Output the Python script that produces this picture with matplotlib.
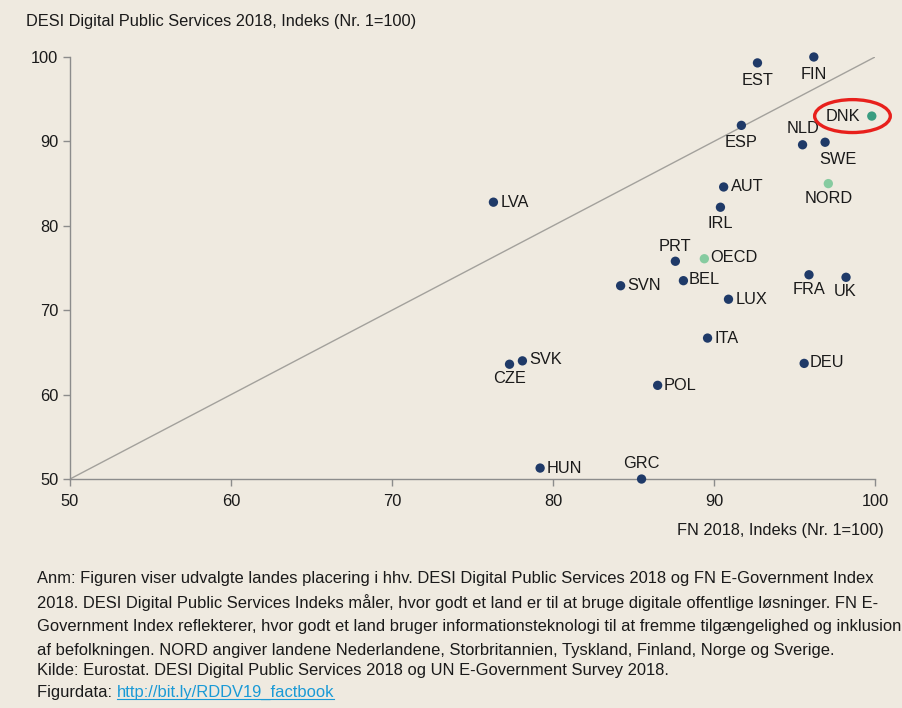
import matplotlib.pyplot as plt
from matplotlib.patches import Ellipse
from matplotlib.lines import Line2D

plt.rcParams['font.family'] = ['Liberation Sans', 'DejaVu Sans']

# FN E-Government index (x) og DESI Digital Public Services (y)
countries = ['EST', 'FIN', 'DNK', 'ESP', 'NLD', 'SWE', 'NORD', 'AUT', 'IRL', 'LVA',
             'PRT', 'OECD', 'BEL', 'SVN', 'LUX', 'FRA', 'UK', 'ITA', 'CZE', 'SVK',
             'POL', 'DEU', 'HUN', 'GRC']
fn_index = [92.7, 96.2, 99.8, 91.7, 95.5, 96.9, 97.1, 90.6, 90.4, 76.3,
            87.6, 89.4, 88.1, 84.2, 90.9, 95.9, 98.2, 89.6, 77.3, 78.1,
            86.5, 95.6, 79.2, 85.5]
desi_index = [99.3, 100.0, 93.0, 91.9, 89.6, 89.9, 85.0, 84.6, 82.2, 82.8,
              75.8, 76.1, 73.5, 72.9, 71.3, 74.2, 73.9, 66.7, 63.6, 64.0,
              61.1, 63.7, 51.3, 50.0]
groups = ['land'] * 24
groups[countries.index('DNK')] = 'dk'
groups[countries.index('NORD')] = 'avg'
groups[countries.index('OECD')] = 'avg'

colors = {'land': '#1f3a68', 'dk': '#3a9c80', 'avg': '#86cba0'}
bg = '#efeae0'
fs = 11.8

# label placement: (dx, dy) in points, ha, va
placement = {
    'EST': (0, -7, 'center', 'top'), 'FIN': (0, -7, 'center', 'top'),
    'DNK': (-8, 0, 'right', 'center'), 'ESP': (0, -7, 'center', 'top'),
    'NLD': (0, 6, 'center', 'bottom'), 'SWE': (9, -7, 'center', 'top'),
    'NORD': (0, -5, 'center', 'top'), 'AUT': (5, 0, 'left', 'center'),
    'IRL': (0, -6, 'center', 'top'), 'LVA': (5, 0, 'left', 'center'),
    'PRT': (0, 5, 'center', 'bottom'), 'OECD': (4, 1, 'left', 'center'),
    'BEL': (4, 1, 'left', 'center'), 'SVN': (5, 0, 'left', 'center'),
    'LUX': (5, 0, 'left', 'center'), 'FRA': (0, -5, 'center', 'top'),
    'UK': (-1, -5, 'center', 'top'), 'ITA': (5, 0, 'left', 'center'),
    'CZE': (0, -5, 'center', 'top'), 'SVK': (5, 1, 'left', 'center'),
    'POL': (4, 0, 'left', 'center'), 'DEU': (4, 1, 'left', 'center'),
    'HUN': (5, 0, 'left', 'center'), 'GRC': (0, 6, 'center', 'bottom'),
}

fig = plt.figure(figsize=(9.03, 7.08), dpi=100, facecolor=bg)
ax = fig.add_axes([0.0775, 0.3234, 0.8915, 0.5961])
ax.set_facecolor(bg)

ax.plot([50, 100], [50, 100], color='#a3a19c', lw=1.0, zorder=1)

for c, x, y, g in zip(countries, fn_index, desi_index, groups):
    ax.scatter(x, y, s=45, color=colors[g], edgecolors='none', zorder=3, clip_on=False)
    dx, dy, ha, va = placement[c]
    ax.annotate(c, (x, y), xytext=(dx, dy), textcoords='offset points',
                ha=ha, va=va, fontsize=fs, color='#1a1a1a')

# Danmark fremhaeves
ax.add_patch(Ellipse((98.6, 93.0), 4.7, 3.9, fill=False, edgecolor='#e8201c',
                     lw=2.4, clip_on=False, zorder=4))

ax.set_xlim(50, 100)
ax.set_ylim(50, 100)
ax.set_xticks(range(50, 101, 10))
ax.set_yticks(range(50, 101, 10))
for side in ['top', 'right']:
    ax.spines[side].set_visible(False)
for side in ['left', 'bottom']:
    ax.spines[side].set_color('#8c8c8c')
    ax.spines[side].set_linewidth(1.0)
ax.tick_params(colors='#8c8c8c', labelcolor='#1a1a1a', labelsize=fs,
               length=5, width=1.0)
ax.tick_params(axis='x', pad=6)

fig.text(0.029, 0.969, 'DESI Digital Public Services 2018, Indeks (Nr. 1=100)',
         fontsize=fs, color='#1a1a1a', va='center')
fig.text(0.979, 0.25, 'FN 2018, Indeks (Nr. 1=100)', fontsize=fs,
         color='#1a1a1a', ha='right', va='center')

notes = [
    'Anm: Figuren viser udvalgte landes placering i hhv. DESI Digital Public Services 2018 og FN E-Government Index',
    '2018. DESI Digital Public Services Indeks måler, hvor godt et land er til at bruge digitale offentlige løsninger. FN E-',
    'Government Index reflekterer, hvor godt et land bruger informationsteknologi til at fremme tilgængelighed og inklusion',
    'af befolkningen. NORD angiver landene Nederlandene, Storbritannien, Tyskland, Finland, Norge og Sverige.',
    'Kilde: Eurostat. DESI Digital Public Services 2018 og UN E-Government Survey 2018.',
]
note_y = [578, 603, 627, 651, 671]
nfs = 11.9
for line, py in zip(notes, note_y):
    fig.text(0.041, 1 - py / 708, line, fontsize=nfs, color='#1a1a1a', va='center')

t = fig.text(0.041, 1 - 692 / 708, 'Figurdata: ', fontsize=nfs, color='#1a1a1a', va='center')
link = fig.text(0, 0, 'http://bit.ly/RDDV19_factbook', fontsize=nfs, color='#1a9ad6', va='center')
fig.canvas.draw()
r = fig.canvas.get_renderer()
bb = t.get_window_extent(r)
link.set_position((bb.x1 / fig.bbox.width, 1 - 692 / 708))
fig.canvas.draw()
lb = link.get_window_extent(r)
uy = (lb.y0 + 1) / fig.bbox.height
fig.add_artist(Line2D([lb.x0 / fig.bbox.width, lb.x1 / fig.bbox.width], [uy, uy],
                      color='#1a9ad6', lw=0.8))

fig.savefig('out.png', dpi=100, facecolor=bg)
